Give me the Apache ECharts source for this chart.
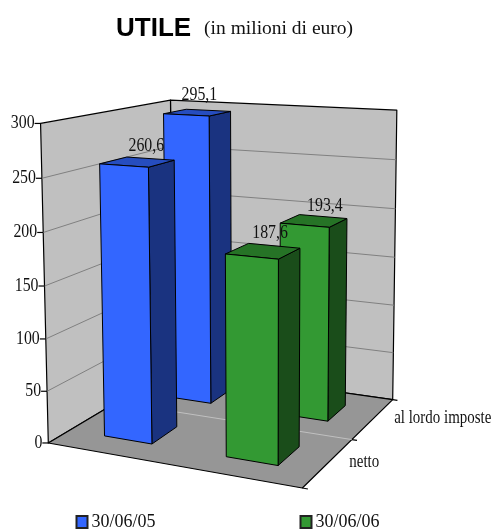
<!DOCTYPE html>
<html>
<head>
<meta charset="utf-8">
<title>Utile</title>
<script src="https://cdn.jsdelivr.net/npm/echarts@6/dist/echarts.min.js"></script>
<style>html,body{margin:0;background:#fff}#chart{width:493px;height:531px}</style>
</head>
<body>
<div id="chart"></div>
<script>
// Profit before and after tax at two closing dates, as a 3D column chart.
const categories = ['netto', 'al lordo imposte'];
const dates = ['30/06/05', '30/06/06'];
const utile2005 = [260.6, 295.1];
const utile2006 = [187.6, 193.4];
const valueLabels2005 = ['260,6', '295,1'];
const valueLabels2006 = ['187,6', '193,4'];
const yTicks = [0, 50, 100, 150, 200, 250, 300];

// Camera: homogeneous projection of the unit box (across, depth, height) to the page.
const CAMERA = [
  [227.3188, 158.44, -9.1523, 48.3172],
  [1.9308, -3.1134, -323.8003, 442.9715],
  [-0.0883, 0.1937, -0.0346, 1]
];
const project = (u, v, w) => {
  const [a, b, c] = CAMERA;
  const d = c[0] * u + c[1] * v + c[2] * w + c[3];
  return [(a[0] * u + a[1] * v + a[2] * w + a[3]) / d, (b[0] * u + b[1] * v + b[2] * w + b[3]) / d];
};

const INK = '#000';
const SERIF = '"Liberation Serif", "Times New Roman", serif';
const BAR_FRACTION = 0.4; // column width as a share of its slot, on both floor directions
const palette = [
  { front: '#3366ff', side: '#1a3380', top: '#264dbf' },
  { front: '#339933', side: '#1a4d1a', top: '#267326' }
];
// Nudges of the value labels from the centre of each column's top, per date and category.
const labelNudges = [
  [[9, -16], [2, -17]],
  [[7, -18], [11, -15]]
];

const poly = (points, fill, z2, stroke, lineWidth) => ({
  type: 'polygon', z2,
  shape: { points },
  style: { fill, stroke: stroke || INK, lineWidth: lineWidth || 1, lineJoin: 'round' }
});
const line = (points, stroke, lineWidth, z2) => ({
  type: 'polyline', z2,
  shape: { points },
  style: { fill: null, stroke, lineWidth }
});
// The typeface runs tall and narrow here, hence the horizontal squeeze.
const text = (x, y, content, align, z2, squeeze) => ({
  type: 'text', x, y, z2, scaleX: squeeze || 0.88,
  style: { text: content, fill: '#111', font: '18px ' + SERIF, align, verticalAlign: 'middle' }
});

// Walls, floor, gridlines, ticks and their labels.
function renderFrame(params, api) {
  const coordSys = params.coordSys;
  const heightOf = value => (coordSys.y + coordSys.height - api.coord([0, value])[1]) / coordSys.height;
  const kids = [];
  kids.push(poly([project(0, 1, 0), project(0, 1, 1), project(1, 1, 1), project(1, 1, 0)], '#c0c0c0', 1, INK, 1.2));
  kids.push(poly([project(0, 0, 0), project(0, 0, 1), project(0, 1, 1), project(0, 1, 0)], '#c0c0c0', 2, INK, 1.2));
  yTicks.forEach(tick => {
    const w = heightOf(tick);
    if (tick > 0 && tick < yTicks[yTicks.length - 1]) {
      kids.push(line([project(0, 0, w), project(0, 1, w), project(1, 1, w)], '#808080', 1, 3));
    }
    const p = project(0, 0, w);
    kids.push(line([p, [p[0] - 6, p[1]]], INK, 1.2, 5));
    kids.push(text(p[0] - 6, p[1], String(tick), 'right', 5));
  });
  kids.push(poly([project(0, 0, 0), project(1, 0, 0), project(1, 1, 0), project(0, 1, 0)], '#969696', 4, INK, 1.2));
  categories.forEach((name, i) => {
    const edge = (i + 1) / categories.length;
    if (i < categories.length - 1) {
      kids.push(line([project(0, edge, 0), project(1, edge, 0)], '#c0c0c0', 1, 5));
    }
    const centre = project(1, (i + 0.5) / categories.length, 0);
    kids.push(text(centre[0] + 21, centre[1], name, 'left', 5, 0.83));
  });
  [0, 0.5, 1].forEach(v => {
    kids.push(line([project(1, v, 0), project(1.02, v, 0)], INK, 1.2, 5));
  });
  return { type: 'group', children: kids };
}

// One 3D column: the band comes from the category axis, the height from the value axis.
function columnRenderer(seriesIndex, labels) {
  return function (params, api) {
    const coordSys = params.coordSys;
    const slot = api.coord([api.value(0), 0])[0];
    const band = api.size([1, 0])[0];
    const uc = (slot - coordSys.x) / coordSys.width;
    const halfU = band * BAR_FRACTION / 2 / coordSys.width;
    const catIndex = api.value(2);
    const vc = (catIndex + 0.5) / categories.length;
    const halfV = BAR_FRACTION / categories.length / 2;
    const h = (coordSys.y + coordSys.height - api.coord([api.value(0), api.value(1)])[1]) / coordSys.height;
    const [u0, u1, v0, v1] = [uc - halfU, uc + halfU, vc - halfV, vc + halfV];
    const colors = palette[seriesIndex];
    const depthOrder = (categories.length - catIndex) * 10;
    const topCentre = project(uc, vc, h);
    const nudge = labelNudges[seriesIndex][catIndex];
    return {
      type: 'group',
      children: [
        poly([project(u1, v0, 0), project(u1, v1, 0), project(u1, v1, h), project(u1, v0, h)], colors.side, depthOrder),
        poly([project(u0, v0, h), project(u1, v0, h), project(u1, v1, h), project(u0, v1, h)], colors.top, depthOrder + 1),
        poly([project(u0, v0, 0), project(u1, v0, 0), project(u1, v0, h), project(u0, v0, h)], colors.front, depthOrder + 2),
        text(topCentre[0] + nudge[0], topCentre[1] + nudge[1], labels[catIndex], 'center', 100)
      ]
    };
  };
}

const columnData = (date, values) => values.map((value, i) => [date, value, i]);
const columnSeries = (index, values, labels) => ({
  type: 'custom',
  name: dates[index],
  coordinateSystem: 'cartesian2d',
  z: 3,
  silent: true,
  encode: { x: 0, y: 1 },
  itemStyle: { color: palette[index].front, borderColor: '#222', borderWidth: 1 },
  renderItem: columnRenderer(index, labels),
  data: columnData(dates[index], values)
});

const chart = echarts.init(document.getElementById('chart'), null, { renderer: 'canvas' });
chart.setOption({
  animation: false,
  backgroundColor: '#fff',
  title: {
    left: 116,
    top: 16,
    padding: 0,
    text: '{a|UTILE}{b|(in milioni di euro)}',
    textStyle: {
      rich: {
        a: { fontFamily: '"Liberation Sans", Arial, sans-serif', fontWeight: 'bold', fontSize: 26, color: INK },
        b: { fontFamily: SERIF, fontWeight: 'normal', fontSize: 19.5, color: '#111', padding: [0, 0, 0, 13] }
      }
    }
  },
  legend: {
    left: 75.5,
    top: 513,
    padding: 0,
    itemWidth: 11,
    itemHeight: 12,
    itemGap: 144,
    icon: 'rect',
    data: dates,
    selectedMode: false,
    textStyle: { fontFamily: SERIF, fontSize: 18, color: '#111', padding: [0, 0, 0, -1] }
  },
  grid: { left: 40, right: 90, top: 100, bottom: 88 },
  xAxis: { type: 'category', data: dates, show: false },
  yAxis: { type: 'value', min: 0, max: 300, interval: 50, show: false },
  series: [
    {
      type: 'custom',
      name: 'frame',
      coordinateSystem: 'cartesian2d',
      z: 1,
      silent: true,
      encode: { x: 0, y: 1 },
      renderItem: renderFrame,
      data: [[dates[0], 0]]
    },
    columnSeries(0, utile2005, valueLabels2005),
    columnSeries(1, utile2006, valueLabels2006)
  ]
});
</script>
</body>
</html>
